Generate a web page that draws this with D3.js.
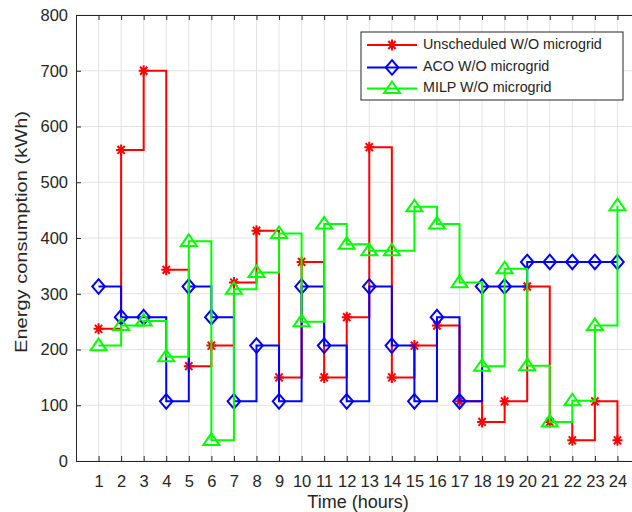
<!DOCTYPE html>
<html><head><meta charset="utf-8">
<script src="https://cdn.jsdelivr.net/npm/d3@7/dist/d3.min.js"></script>
<style>body{margin:0;background:#fff}svg{display:block}text{font-family:"Liberation Sans",Arial,sans-serif;fill:#262626}</style>
</head><body>
<svg id="c" width="632" height="512"></svg>
<script>
const hours = d3.range(1, 25);
const xTicks = hours;
const yTicks = [0,100,200,300,400,500,600,700,800];
const seriesNames = ["Unscheduled W/O microgrid","ACO W/O microgrid","MILP W/O microgrid"];
const unscheduled = [237,558,700,343,170,207,320,413,150,357,150,258,563,150,207,243,107,70,107,313,70,37,107,37];
const aco = [313,258,258,107,313,258,107,207,107,313,207,107,313,207,107,258,107,313,313,357,357,357,357,357];
const milp = [207,243,251,187,394,37,308,338,408,250,425,389,377,377,456,425,320,170,345,171,70,108,243,458];

const svg = d3.select("#c");
const L=76, R=640, T=15, B=461;
const x = d3.scaleLinear().domain([0,25]).range([L,R]);
const y = d3.scaleLinear().domain([0,800]).range([B,T]);
const axisCol="#262626";

// grid
svg.append("g").selectAll("line").data(xTicks).join("line")
  .attr("x1",d=>x(d)).attr("x2",d=>x(d)).attr("y1",T).attr("y2",B)
  .attr("stroke","#e3e3e3").attr("stroke-width",1);
svg.append("g").selectAll("line").data(yTicks).join("line")
  .attr("x1",L).attr("x2",R).attr("y1",d=>y(d)).attr("y2",d=>y(d))
  .attr("stroke","#e3e3e3").attr("stroke-width",1);

// axes
const gx = svg.append("g").attr("transform",`translate(0,${B})`)
  .call(d3.axisBottom(x).tickValues(xTicks).tickSize(-5).tickPadding(14).tickFormat(d3.format("d")));
const gxt = svg.append("g").attr("transform",`translate(0,${T})`)
  .call(d3.axisTop(x).tickValues(xTicks).tickSize(-5).tickFormat(""));
const gy = svg.append("g").attr("transform",`translate(${L},0)`)
  .call(d3.axisLeft(y).tickValues(yTicks).tickSize(-5).tickPadding(8));
[gx,gxt,gy].forEach(g=>{
  g.select(".domain").attr("stroke",axisCol);
  g.selectAll(".tick line").attr("stroke",axisCol);
  g.selectAll(".tick text").attr("font-size",16.5).style("fill",axisCol).attr("font-family","Liberation Sans, Arial, sans-serif");
});
gx.selectAll(".tick text").attr("dy","0.35em").attr("y",20);

// axis titles
svg.append("text").attr("x",(L+R)/2).attr("y",507.5).attr("text-anchor","middle")
  .attr("font-size",18).text("Time (hours)");
svg.append("text").attr("transform",`translate(27,232) rotate(-90)`)
  .attr("text-anchor","middle").attr("font-size",16)
  .attr("textLength",242).attr("lengthAdjust","spacingAndGlyphs")
  .text("Energy consumption (kWh)");

const colors=["#ff0000","#0000ff","#00ff00"];
const data=[unscheduled,aco,milp];
const line = d3.line().x((d,i)=>x(hours[i])).y(d=>y(d)).curve(d3.curveStepAfter);

function marker(g, type, cx, cy, col){
  if(type===0){
    const rx=5, ry=5.5, r2=3.6;
    g.append("path").attr("d",`M${cx-rx},${cy}H${cx+rx}M${cx},${cy-ry}V${cy+ry}M${cx-r2},${cy-r2*1.1}L${cx+r2},${cy+r2*1.1}M${cx-r2},${cy+r2*1.1}L${cx+r2},${cy-r2*1.1}`)
      .attr("stroke",col).attr("stroke-width",2).attr("fill","none");
  } else if(type===1){
    const rx=6.3, ry=7.3;
    g.append("path").attr("d",`M${cx},${cy-ry}L${cx+rx},${cy}L${cx},${cy+ry}L${cx-rx},${cy}Z`)
      .attr("stroke",col).attr("stroke-width",2).attr("fill","none");
  } else {
    const w=8, h=7;
    g.append("path").attr("d",`M${cx},${cy-h}L${cx+w},${cy+h*0.65}L${cx-w},${cy+h*0.65}Z`)
      .attr("stroke",col).attr("stroke-width",2).attr("fill","none");
  }
}

data.forEach((vals,k)=>{
  const g=svg.append("g");
  g.append("path").datum(vals).attr("d",line).attr("fill","none")
    .attr("stroke",colors[k]).attr("stroke-width",2);
  vals.forEach((v,i)=>marker(g,k,x(hours[i]),y(v),colors[k]));
});

// legend
const lg=svg.append("g");
lg.append("rect").attr("x",361).attr("y",32).attr("width",262).attr("height",68)
  .attr("fill","#fff").attr("stroke",axisCol).attr("stroke-width",1);
const ly=[45,67.5,88.5];
seriesNames.forEach((n,k)=>{
  lg.append("line").attr("x1",367).attr("x2",417).attr("y1",ly[k]).attr("y2",ly[k])
    .attr("stroke",colors[k]).attr("stroke-width",2);
  marker(lg,k,392,ly[k],colors[k]);
  lg.append("text").attr("x",423).attr("y",ly[k]).attr("dominant-baseline","middle")
    .attr("font-size",14.3).text(n);
});
</script>
</body></html>
